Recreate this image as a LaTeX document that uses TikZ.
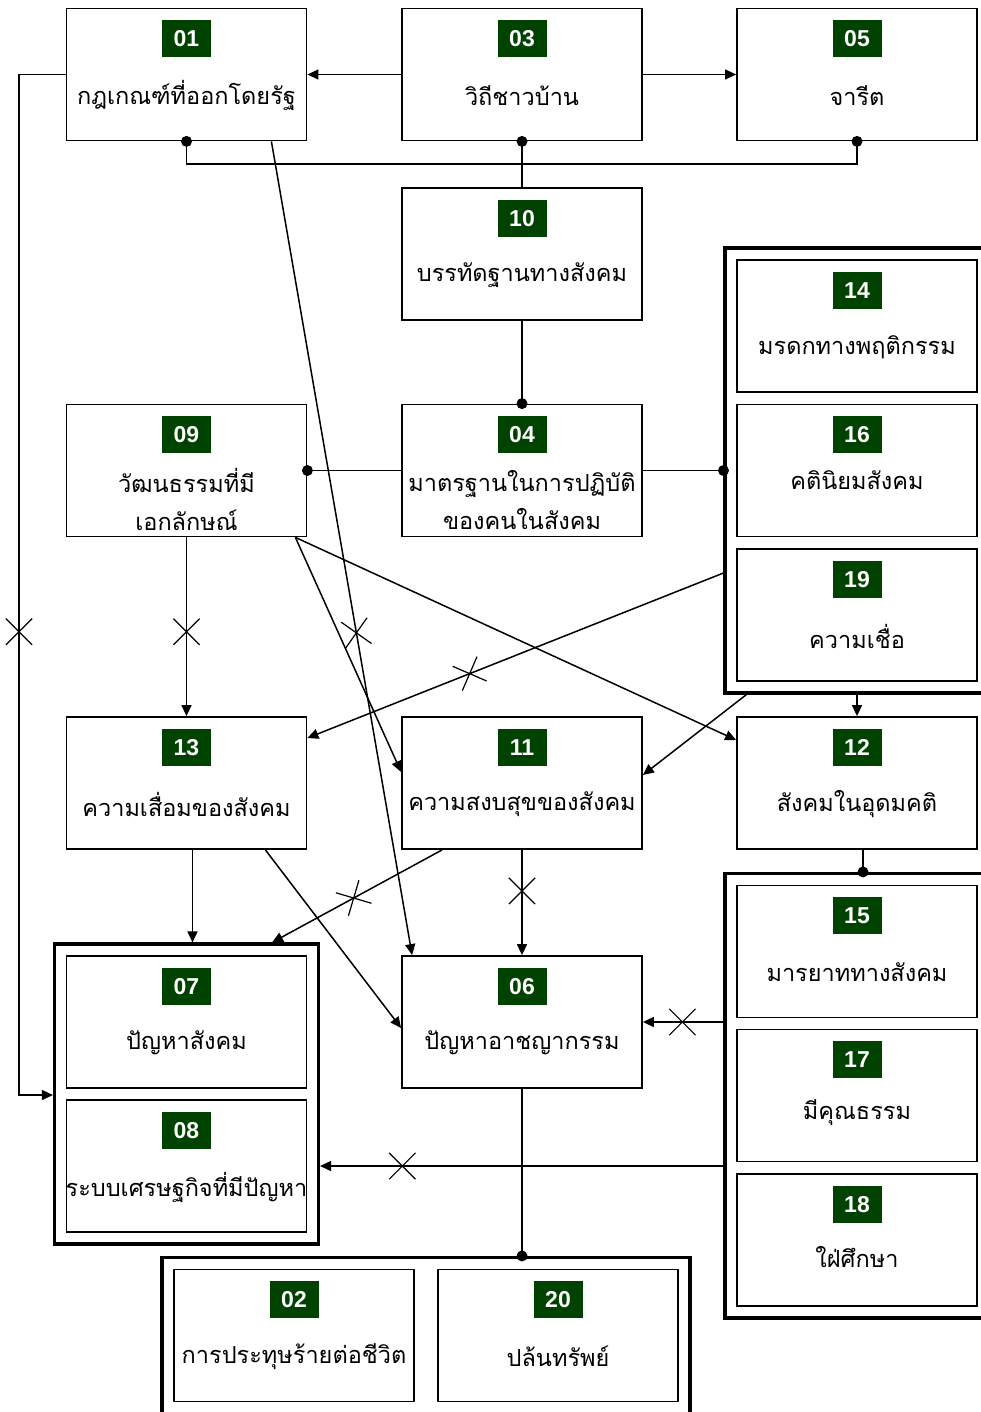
\documentclass[tikz,border=0pt]{standalone}
\usepackage{fontspec}
\setmainfont{Liberation Sans}
\newfontfamily\thai[Script=Thai]{Loma}
\usetikzlibrary{arrows.meta,fit,shapes.misc}
\definecolor{badgegreen}{RGB}{0,66,0}
\tikzset{
  box/.style={draw, line width=1.8pt, minimum width=240pt, minimum height=132pt, inner sep=0pt},
  num/.style={fill=badgegreen, text=white, font=\bfseries\fontsize{23}{23}\selectfont,
    minimum width=49pt, minimum height=37pt, inner sep=0pt},
  txt/.style={font=\thai\fontsize{23.5}{38}\selectfont, align=center, inner sep=0pt},
  grp/.style={draw, line width=3.3pt, inner sep=11pt},
  dot/.style={circle, fill, inner sep=0pt, minimum size=11pt},
  xmark/.style={cross out, draw, sloped, inner sep=0pt, minimum size=25pt, line width=1.2pt},
  ln/.style={line width=1.5pt},
  arr/.style={ln, -{Triangle[length=11pt,width=10pt]}}
}
\begin{document}
\begin{tikzpicture}[x=1pt,y=-1pt]
  \useasboundingbox (0,0) rectangle (981,1412);
  \clip (0,0) rectangle (981,1412);
  \node[box] (b01) at (186.5,74.5) {};
  \node[box] (b03) at (522,74.5) {};
  \node[box] (b05) at (857,74.5) {};
  \node[box] (b10) at (522,254) {};
  \node[box] (b14) at (857,326) {};
  \node[box] (b09) at (186.5,470.5) {};
  \node[box] (b04) at (522,470.5) {};
  \node[box] (b16) at (857,470.5) {};
  \node[box] (b19) at (857,615) {};
  \node[box] (b13) at (186.5,783) {};
  \node[box] (b11) at (522,783) {};
  \node[box] (b12) at (857,783) {};
  \node[box] (b15) at (857,951.5) {};
  \node[box] (b07) at (186.5,1022) {};
  \node[box] (b06) at (522,1022) {};
  \node[box] (b17) at (857,1095.5) {};
  \node[box] (b08) at (186.5,1166) {};
  \node[box] (b18) at (857,1240) {};
  \node[box] (b02) at (294,1335.5) {};
  \node[box] (b20) at (558,1335.5) {};
  % groups
  \node[grp, fit=(b14)(b19)] (gA) {};
  \node[grp, fit=(b07)(b08)] (gB) {};
  \node[grp, fit=(b15)(b18)] (gC) {};
  \node[grp, fit=(b02)(b20)] (gD) {};
  % badges and labels
  \node[num] (n01) at ([yshift=-31pt]b01.north) {01};
  \node[txt] (t01) at ([yshift=-88pt]b01.north) {กฎเกณฑ์ที่ออกโดยรัฐ};
  \node[num] (n03) at ([yshift=-31pt]b03.north) {03};
  \node[txt] (t03) at ([yshift=-88pt]b03.north) {วิถีชาวบ้าน};
  \node[num] (n05) at ([yshift=-31pt]b05.north) {05};
  \node[txt] (t05) at ([yshift=-88pt]b05.north) {จารีต};
  \node[num] (n10) at ([yshift=-31pt]b10.north) {10};
  \node[txt] (t10) at ([yshift=-88pt]b10.north) {บรรทัดฐานทางสังคม};
  \node[num] (n14) at ([yshift=-31pt]b14.north) {14};
  \node[txt] (t14) at ([yshift=-88pt]b14.north) {มรดกทางพฤติกรรม};
  \node[num] (n09) at ([yshift=-31pt]b09.north) {09};
  \node[txt] (t09) at ([yshift=-96pt]b09.north) {วัฒนธรรมที่มี\\เอกลักษณ์};
  \node[num] (n04) at ([yshift=-31pt]b04.north) {04};
  \node[txt] (t04) at ([yshift=-96pt]b04.north) {มาตรฐานในการปฏิบัติ\\ของคนในสังคม};
  \node[num] (n16) at ([yshift=-31pt]b16.north) {16};
  \node[txt] (t16) at ([yshift=-77pt]b16.north) {คตินิยมสังคม};
  \node[num] (n19) at ([yshift=-31pt]b19.north) {19};
  \node[txt] (t19) at ([yshift=-88pt]b19.north) {ความเชื่อ};
  \node[num] (n13) at ([yshift=-31pt]b13.north) {13};
  \node[txt] (t13) at ([yshift=-88pt]b13.north) {ความเสื่อมของสังคม};
  \node[num] (n11) at ([yshift=-31pt]b11.north) {11};
  \node[txt] (t11) at ([yshift=-88pt]b11.north) {ความสงบสุขของสังคม};
  \node[num] (n12) at ([yshift=-31pt]b12.north) {12};
  \node[txt] (t12) at ([yshift=-88pt]b12.north) {สังคมในอุดมคติ};
  \node[num] (n15) at ([yshift=-31pt]b15.north) {15};
  \node[txt] (t15) at ([yshift=-88pt]b15.north) {มารยาททางสังคม};
  \node[num] (n07) at ([yshift=-31pt]b07.north) {07};
  \node[txt] (t07) at ([yshift=-88pt]b07.north) {ปัญหาสังคม};
  \node[num] (n06) at ([yshift=-31pt]b06.north) {06};
  \node[txt] (t06) at ([yshift=-88pt]b06.north) {ปัญหาอาชญากรรม};
  \node[num] (n17) at ([yshift=-31pt]b17.north) {17};
  \node[txt] (t17) at ([yshift=-84pt]b17.north) {มีคุณธรรม};
  \node[num] (n08) at ([yshift=-31pt]b08.north) {08};
  \node[txt] (t08) at ([yshift=-88pt]b08.north) {ระบบเศรษฐกิจที่มีปัญหา};
  \node[num] (n18) at ([yshift=-31pt]b18.north) {18};
  \node[txt] (t18) at ([yshift=-84pt]b18.north) {ใฝ่ศึกษา};
  \node[num] (n02) at ([yshift=-31pt]b02.north) {02};
  \node[txt] (t02) at ([yshift=-88pt]b02.north) {การประทุษร้ายต่อชีวิต};
  \node[num] (n20) at ([yshift=-31pt]b20.north) {20};
  \node[txt] (t20) at ([yshift=-88pt]b20.north) {ปล้นทรัพย์};
  \coordinate (k1) at (19,1095);
  \coordinate (k2) at (522,164);
  \begin{scope}[ln]
    \draw[arr] (b03.west) -- (b01.east);
    \draw[arr] (b03.east) -- (b05.west);
    \draw (b01.south) |- (k2) -| (b05.south);
    \draw (b03.south) -- (b10.north);
    \draw (b10.south) -- (b04.north);
    \draw (b09.east) -- (b04.west);
    \draw (b04.east) -- (gA.west);
    \draw[arr] (b01.west) -| node[xmark, pos=0.773] (x1) {} (k1) -- (k1 -| gB.west);
    \draw[arr] ([xshift=-36pt]b01.south east) -- node[xmark, pos=0.604] (x2) {} ([xshift=11pt]b06.north west);
    \draw[arr] (b09.south) -- node[xmark, pos=0.528] (x3) {} (b13.north);
    \draw[arr] ([xshift=-12pt]b09.south east) -- ([yshift=11pt]b11.west);
    \draw[arr] ([xshift=-12pt]b09.south east) -- ([yshift=43pt]b12.west);
    \draw[arr] ([yshift=-102.5pt]gA.west) -- node[xmark, pos=0.61] (x4) {} ([yshift=45pt]b13.east);
    \draw[arr] ([xshift=23pt]gA.south west) -- ([yshift=8pt]b11.east);
    \draw[arr] (b12.north |- gA.south) -- (b12.north);
    \draw ([xshift=6pt]b12.south) -- ([xshift=6pt]b12.south |- gC.north);
    \draw[arr] ([xshift=6pt]b13.south) -- ([xshift=6pt]b13.south |- gB.north);
    \draw[arr] ([xshift=-42pt]b13.south east) -- ([yshift=-6pt]b06.west);
    \draw[arr] ([xshift=41pt]b11.south west) -- node[xmark, pos=0.52] (x5) {} ([xshift=-48pt]gB.north east);
    \draw[arr] (b11.south) -- node[xmark, pos=0.39] (x6) {} (b06.north);
    \draw[arr] (b06.east -| gC.west) -- node[xmark, pos=0.51] (x7) {} (b06.east);
    \draw[arr] (b08.east -| gC.west) -- node[xmark, pos=0.796] (x8) {} (b08.east -| gB.east);
    \draw (b06.south) -- (b06.south |- gD.north);
  \end{scope}
  % dots
  \node[dot] (d01) at (b01.south) {};
  \node[dot] (d03) at (b03.south) {};
  \node[dot] (d05) at (b05.south) {};
  \node[dot] (d04) at (b04.north) {};
  \node[dot] (d09) at (b09.east) {};
  \node[dot] (dA) at (gA.west) {};
  \node[dot] (dC) at ([xshift=6pt]b12.south |- gC.north) {};
  \node[dot] (dD) at (b06.south |- gD.north) {};
\end{tikzpicture}
\end{document}
